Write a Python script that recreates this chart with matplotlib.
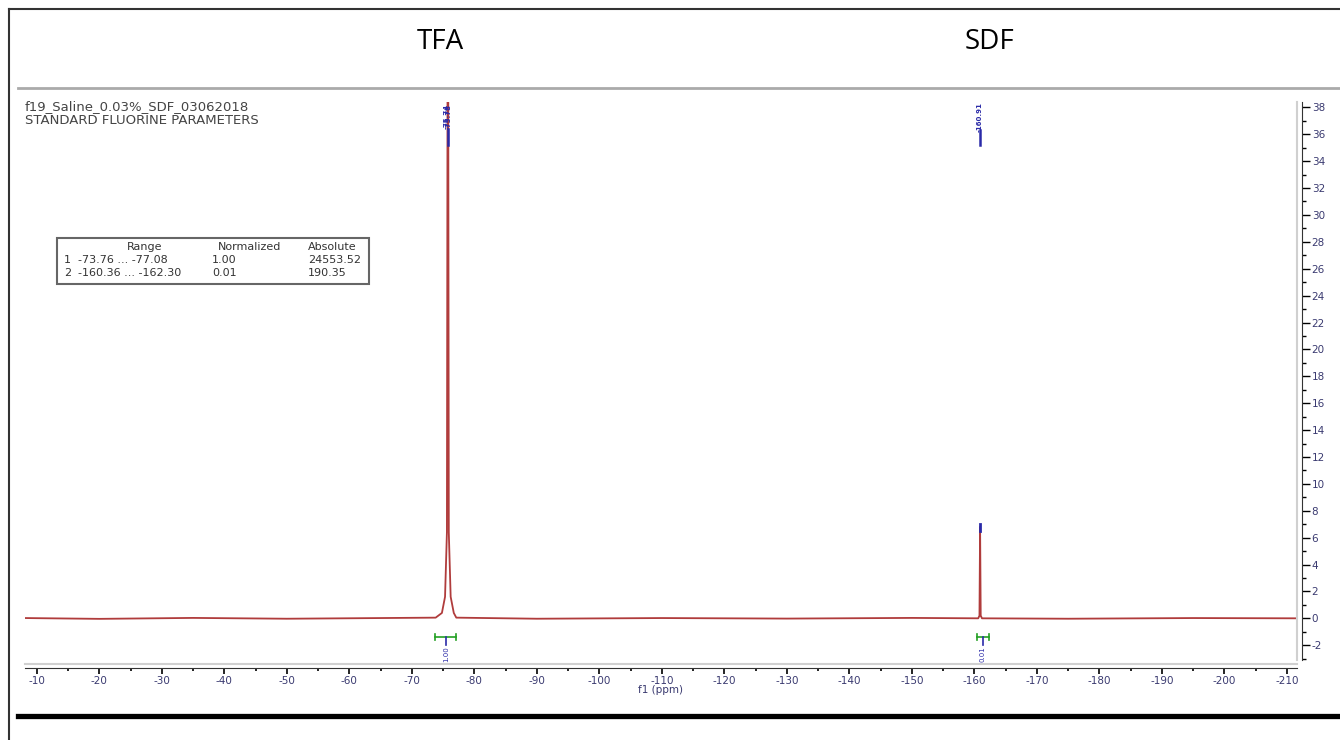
import matplotlib
matplotlib.use("Agg")
import matplotlib.pyplot as plt
from matplotlib.lines import Line2D
from matplotlib.patches import Rectangle
from matplotlib.ticker import MultipleLocator

plt.rcParams['font.family'] = ['DejaVu Sans']
plt.rcParams['axes.unicode_minus'] = False

# spectrum points (ppm, intensity)
ppm = [-8.1, -20, -35, -50, -65, -73.8, -74.8, -75.3, -75.6, -75.76, -75.9, -76.2, -76.7, -77.1,
       -90, -110, -130, -150, -160.6, -160.8, -160.9, -161.0, -161.2, -175, -195, -211.6]
intensity = [0.02, -0.04, 0.03, -0.03, 0.02, 0.05, 0.4, 1.6, 6.4, 60, 6.4, 1.6, 0.4, 0.05,
             -0.03, 0.02, -0.02, 0.03, 0.0, 0.2, 6.8, 0.2, 0.0, -0.03, 0.02, 0.0]

# peak picks
pick_ppm = [-75.55, -75.95, -160.9]
pick_text = ["-75.74", "-75.78", "-160.91"]

# integrations
int_start = [-73.76, -160.36]
int_end = [-77.08, -162.30]
normalized = [1.00, 0.01]
absolute = [24553.52, 190.35]

compounds = ["TFA", "SDF"]
title_lines = ["f19_Saline_0.03%_SDF_03062018", "STANDARD FLUORINE PARAMETERS"]

W, H = 1340, 740
fig = plt.figure(figsize=(W / 100, H / 100), dpi=100)


def fx(px):
    return px / W


def fy(py):
    return 1 - py / H


ax = fig.add_axes([fx(25), fy(660), fx(1297) - fx(25), fy(102) - fy(660)])
ax.plot(ppm, intensity, color='#b03c3c', lw=1.3)
ax.set_xlim(-8.1, -211.6)
ax.set_ylim(-3.1, 38.4)

blue = '#2a2aa8'
green = '#22a022'
for p, t in zip(pick_ppm, pick_text):
    ax.text(p, 37.3, t, rotation=90, fontsize=5, fontweight='bold', color=blue, ha='center', va='center')
ax.plot([-75.76, -75.76], [35.2, 36.4], color=blue, lw=1.8)
ax.plot([-160.9, -160.9], [35.2, 36.3], color=blue, lw=1.8)
ax.plot([-160.9, -160.9], [6.5, 7.0], color=blue, lw=2)

for s, e, n in zip(int_start, int_end, normalized):
    c = (s + e) / 2
    ax.plot([s, e], [-1.4, -1.4], color=green, lw=1.2)
    ax.plot([s, s], [-1.6, -1.2], color=green, lw=1.2)
    ax.plot([e, e], [-1.6, -1.2], color=green, lw=1.2)
    ax.plot([c, c], [-1.4, -2.0], color=blue, lw=1.2)
    ax.text(c, -2.7, f"{n:.2f}", rotation=90, fontsize=5, color=blue, ha='center', va='center')

ax.spines['top'].set_visible(False)
ax.spines['left'].set_visible(False)
ax.spines['bottom'].set_position(('outward', 5.8))
ax.spines['right'].set_position(('outward', 3.6))
ax.spines['bottom'].set_color('#333333')
ax.spines['right'].set_color('#333333')

ax.xaxis.set_major_locator(MultipleLocator(10))
ax.xaxis.set_minor_locator(MultipleLocator(5))
ax.yaxis.set_major_locator(MultipleLocator(2))
ax.yaxis.set_minor_locator(MultipleLocator(1))
ax.yaxis.tick_right()
tick_col = '#3a3a70'
ax.tick_params(axis='x', which='major', length=4, width=1.2, pad=2, labelsize=7.5, labelcolor=tick_col)
ax.tick_params(axis='x', which='minor', length=2.5, width=1.2)
ax.tick_params(axis='y', which='major', length=6, width=1, pad=1, labelsize=7.5, labelcolor=tick_col)
ax.tick_params(axis='y', which='minor', length=3, width=1)
ax.set_xlabel("f1 (ppm)", fontsize=7.5, color=tick_col, labelpad=-1)

# spectrum header text
fig.text(fx(25), fy(107), title_lines[0], fontsize=9.5, color='#444444', va='center')
fig.text(fx(25), fy(121), title_lines[1], fontsize=9.5, color='#444444', va='center')

# integration table
fig.add_artist(Rectangle((fx(57), fy(284)), fx(369) - fx(57), fy(238) - fy(284),
                         transform=fig.transFigure, fill=False, ec='#666666', lw=1.5))
fs = 8
fig.text(fx(145), fy(247), "Range", fontsize=fs, color='#333333', ha='center', va='center')
fig.text(fx(250), fy(247), "Normalized", fontsize=fs, color='#333333', ha='center', va='center')
fig.text(fx(332), fy(247), "Absolute", fontsize=fs, color='#333333', ha='center', va='center')
for i in range(len(int_start)):
    yy = fy(260 + i * 13)
    fig.text(fx(64), yy, str(i + 1), fontsize=fs, color='#333333', va='center')
    fig.text(fx(78), yy, f"{int_start[i]:.2f} ... {int_end[i]:.2f}", fontsize=fs, color='#333333', va='center')
    fig.text(fx(212), yy, f"{normalized[i]:.2f}", fontsize=fs, color='#333333', va='center')
    fig.text(fx(308), yy, f"{absolute[i]:.2f}", fontsize=fs, color='#333333', va='center')

# compound labels in top band
fig.text(fx(440), fy(42), compounds[0], fontsize=20, ha='center', va='center', family='Open Sans')
fig.text(fx(990), fy(42), compounds[1], fontsize=20, ha='center', va='center', family='Open Sans')

# frame and separator lines
fig.add_artist(Line2D([fx(9), fx(9)], [fy(9), 0], color='#333333', lw=1.5))
fig.add_artist(Line2D([fx(9), 1], [fy(9), fy(9)], color='#333333', lw=1.5))
fig.add_artist(Line2D([fx(18), 1], [fy(88), fy(88)], color='#aaaaaa', lw=2))
fig.add_artist(Line2D([fx(18), 1], [fy(716), fy(716)], color='#000000', lw=3.8))
fig.add_artist(Line2D([fx(25), fx(1297)], [fy(664), fy(664)], color='#d0d0d0', lw=1.5))
fig.add_artist(Line2D([fx(1297), fx(1297)], [fy(102), fy(660)], color='#d0d0d0', lw=1.5))

fig.savefig("out.png", dpi=100, facecolor='white')
